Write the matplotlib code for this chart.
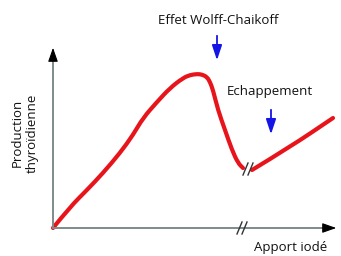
import matplotlib.pyplot as plt
import numpy as np
from matplotlib.path import Path
from matplotlib.patches import PathPatch

plt.rcParams["font.family"] = ["Open Sans", "DejaVu Sans"]

# curve (arbitrary units, origin at the axes corner)
x_before = [0, 17, 34, 50, 67, 80, 90, 104, 117, 130, 137, 144, 149, 154, 157, 160,
            165, 172, 179, 185, 190]
y_before = [0, 21, 38, 55, 75, 93, 110, 126, 140, 150, 153, 154, 153.5, 151, 146, 138,
            118, 98, 78, 65, 60]
x_after = [199, 237, 280]
y_after = [58, 81, 110]

x_break = 189
curve_break = (195, 59)

label_peak = "Effet Wolff-Chaikoff"
label_escape = "Echappement"
label_x = "Apport iodé"
label_y = "Production\nthyroïdienne"

RED = "#e8141c"
AXIS = "#7d8b8b"
BLUE = "#1414e6"


def smooth_path(xs, ys):
    """Quadratic bezier through the midpoints, read points act as controls."""
    pts = np.column_stack([xs, ys])
    verts = [pts[0]]
    codes = [Path.MOVETO]
    for i in range(1, len(pts) - 1):
        verts += [pts[i], (pts[i] + pts[i + 1]) / 2]
        codes += [Path.CURVE3, Path.CURVE3]
    verts.append(pts[-1])
    codes.append(Path.LINETO)
    return Path(verts, codes)


fig = plt.figure(figsize=(3.41, 2.56), dpi=100)
ax = fig.add_axes([53 / 341, 28 / 256, 286 / 341, 183 / 256])
ax.set_xlim(0, 286)
ax.set_ylim(0, 183)
ax.axis("off")

# axes with black arrow heads
ax.plot([0, 0], [0, 0.95], color=AXIS, lw=1.4, transform=ax.transAxes, clip_on=False)
ax.plot([0, 0.97], [0, 0], color=AXIS, lw=1.4, transform=ax.transAxes, clip_on=False)
head = dict(arrowstyle="-|>,head_length=0.85,head_width=0.3", color="black", lw=0.8)
ax.annotate("", xy=(0, 1), xytext=(0, 0.93), xycoords="axes fraction", arrowprops=head)
ax.annotate("", xy=(1, 0), xytext=(0.95, 0), xycoords="axes fraction", arrowprops=head)

# curve
for xs, ys in ((x_before, y_before), (x_after, y_after)):
    ax.add_patch(PathPatch(smooth_path(xs, ys), fill=False, edgecolor=RED, lw=3,
                           capstyle="round", joinstyle="round", clip_on=False))

# break marks
for dx in (-2.5, 2.5):
    ax.plot([x_break + dx - 2.5, x_break + dx + 2.5], [-6, 6], color="#333333",
            lw=1, clip_on=False)
    ax.plot([curve_break[0] + dx - 2.5, curve_break[0] + dx + 2.5],
            [curve_break[1] - 6, curve_break[1] + 6], color="#333333", lw=1, clip_on=False)

# blue arrows
blue = dict(arrowstyle="-|>,head_length=0.9,head_width=0.3", color=BLUE, lw=1.3)
ax.annotate("", xy=(164, 165), xytext=(164, 195), arrowprops=blue, annotation_clip=False)
ax.annotate("", xy=(218, 91), xytext=(218, 121), arrowprops=blue, annotation_clip=False)

txt = dict(ha="center", va="center", fontsize=9.5, color="#111111",
           fontweight="medium", clip_on=False)
ax.text(165, 208, label_peak, **txt)
ax.text(217, 136, label_escape, **txt)
ax.text(238, -20, label_x, **txt)
ax.text(-28, 95, label_y, rotation=90, multialignment="center", linespacing=1.15, **txt)

fig.savefig("out.png", dpi=100)
